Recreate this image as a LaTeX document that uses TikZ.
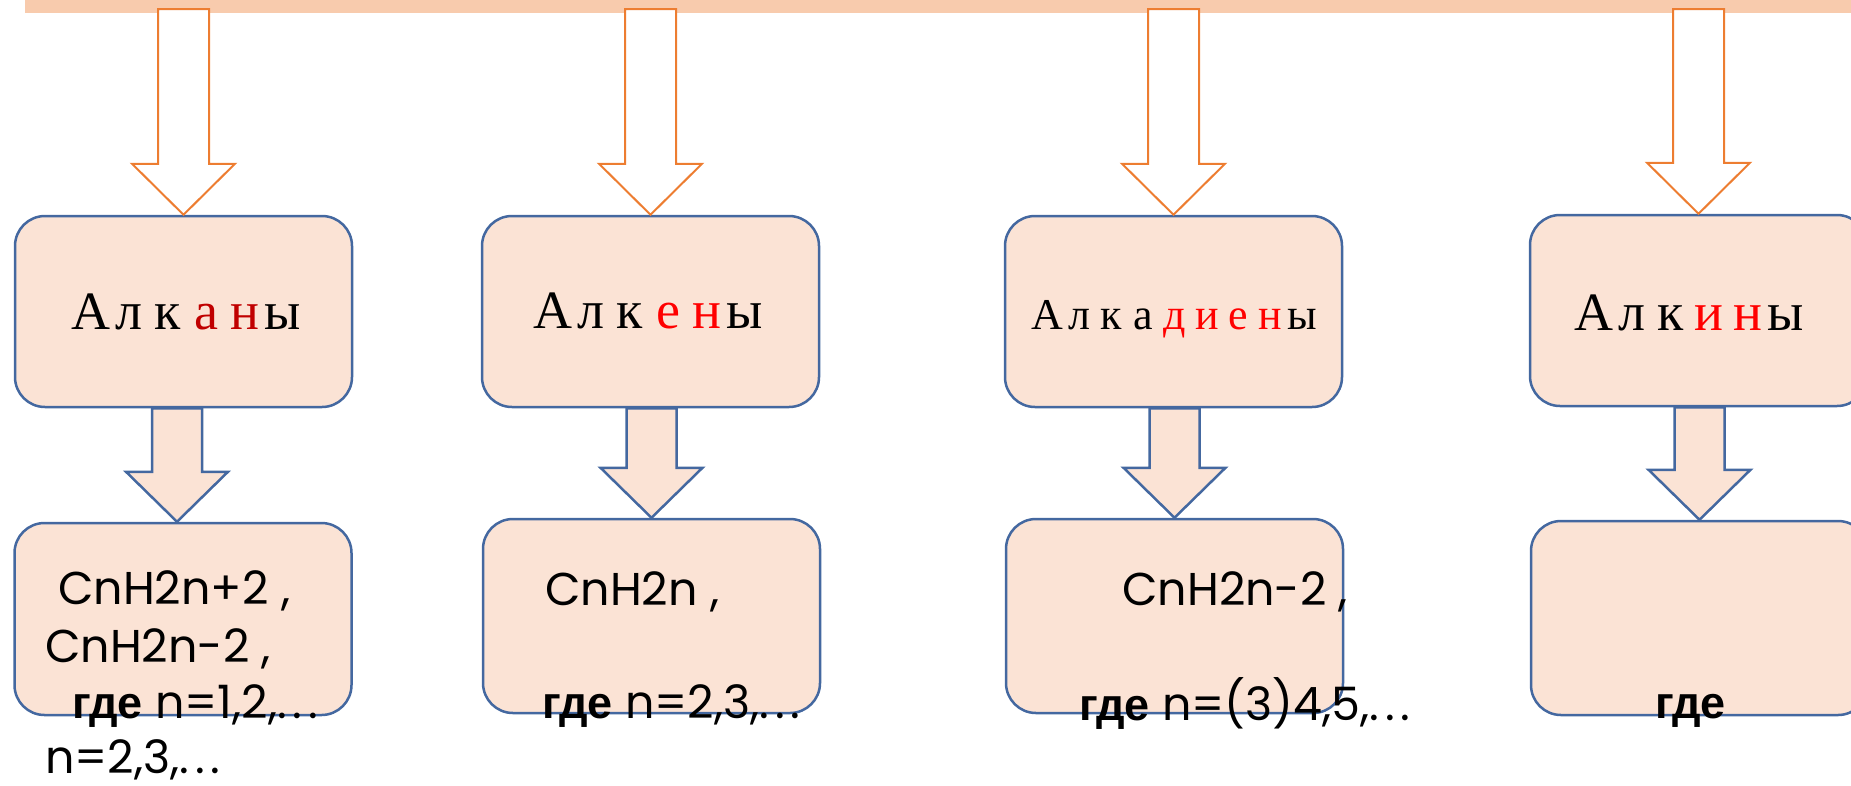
\documentclass[tikz,border=0pt]{standalone}
\usepackage{fontspec}
\usetikzlibrary{calc}
\newfontfamily\titlefont{Liberation Serif}
\newfontfamily\formfont{Poppins}
\newfontfamily\boldsans{Liberation Sans}
\definecolor{bandcol}{HTML}{F8CBAD}
\definecolor{arrowor}{HTML}{ED7D31}
\definecolor{boxfill}{HTML}{FBE3D5}
\definecolor{boxline}{HTML}{4468A0}
\definecolor{darkred}{HTML}{C00000}
\definecolor{brightred}{HTML}{FF0000}
% typewriter-like setting: every letter in a cell of fixed width
\makeatletter
\newcommand\cells[2]{\@tfor\cell@c:=#2\do{\makebox[#1]{\cell@c}}}
\makeatother
% widely spaced ellipsis
\newcommand\wdots{.\hspace{0.13em}.\hspace{0.13em}.}
% bold word "где"
\newcommand\gde{{\boldsans\bfseries\fontsize{45}{45}\selectfont где}}
% block arrow: #1 top point, #2 tip point, #3 half shaft width,
% #4 half head width, #5 head length, #6 style
\newcommand\blockarr[6]{%
  \path[#6] let \p1=(#1), \p2=(#2) in
    ({\x2-#3},\y1) -- ({\x2+#3},\y1) -- ({\x2+#3},{\y2+#5}) --
    ({\x2+#4},{\y2+#5}) -- (\x2,\y2) -- ({\x2-#4},{\y2+#5}) --
    ({\x2-#3},{\y2+#5}) -- cycle;}
\begin{document}
\begin{tikzpicture}[x=1pt,y=-1pt,
  classbox/.style={draw=boxline, fill=boxfill, line width=2.5pt,
    rounded corners=30pt, minimum width=337pt, minimum height=191pt,
    inner sep=0pt},
  title/.style={anchor=base, inner sep=0pt, text=black,
    font=\titlefont\fontsize{54}{54}\selectfont},
  formula/.style={anchor=base west, inner sep=0pt, text=black,
    font=\formfont\fontsize{46}{46}\selectfont},
  orangearr/.style={draw=arrowor, fill=white, line width=2pt},
  bluearr/.style={draw=boxline, fill=boxfill, line width=2.5pt}]
\useasboundingbox (0,0) rectangle (1851,785);

% top band
\node[fill=bandcol, inner sep=0pt, minimum width=1826pt, minimum height=13pt,
  anchor=north west] (band) at (25,0) {};

% upper row of class boxes
\node[classbox] (b1) at (183.5,311.5) {};
\node[classbox] (b2) at (650.5,311.5) {};
\node[classbox] (b3) at (1173.5,311.5) {};
\node[classbox] (b4) at (1698.5,310.5) {};

% arrows from the band to each class
\coordinate (s1) at (183,9);
\coordinate (s2) at (650,9);
\coordinate (s3) at (1173,9);
\coordinate (s4) at (1699,9);
\blockarr{s1}{b1.north}{25.5pt}{51.5pt}{51pt}{orangearr}
\blockarr{s2}{b2.north}{25.5pt}{51.5pt}{51pt}{orangearr}
\blockarr{s3}{b3.north}{25.5pt}{51.5pt}{51pt}{orangearr}
\blockarr{s4}{b4.north}{25.5pt}{51.5pt}{51pt}{orangearr}

% lower row of formula boxes
\node[classbox, minimum height=192pt] (c1) at (183,619) {};
\node[classbox, minimum height=194pt] (c2) at (651.5,616) {};
\node[classbox, minimum height=194pt] (c3) at (1174.5,616) {};
\node[classbox, minimum height=194pt] (c4) at (1699.5,618) {};

% arrows from each class to its formula
\blockarr{b1.south}{$(c1.north)+(-6,0)$}{25pt}{51pt}{50pt}{bluearr}
\blockarr{b2.south}{c2.north}{25pt}{51pt}{50pt}{bluearr}
\blockarr{b3.south}{c3.north}{25pt}{51pt}{50pt}{bluearr}
\blockarr{b4.south}{c4.north}{25pt}{51pt}{50pt}{bluearr}

% class names
\node[title] (t1) at (187,329)
  {\cells{38.4pt}{Алк}\textcolor{darkred}{\cells{38.4pt}{ан}}\cells{38.4pt}{ы}};
\node[title] (t2) at (649,328)
  {\cells{38.4pt}{Алк}\textcolor{brightred}{\cells{38.4pt}{ен}}\cells{38.4pt}{ы}};
\node[title, font=\titlefont\fontsize{44}{44}\selectfont] (t3) at (1175,329)
  {\cells{31.8pt}{Алка}\textcolor{brightred}{\cells{31.8pt}{диен}}\cells{31.8pt}{ы}};
\node[title] (t4) at (1690,330)
  {\cells{38.4pt}{Алк}\textcolor{brightred}{\cells{38.4pt}{ин}}\cells{38.4pt}{ы}};

% formulas
\node[formula] (f1a) at (58,604) {CnH2n+2 ,};
\node[formula] (f1b) at (45,662) {CnH2n-2 ,};
\node[formula] (f1c) at (72,718) {\gde{} n=1,2,\wdots};
\node[formula] (f1d) at (45,773) {n=2,3,\wdots};

\node[formula] (f2a) at (545,605) {CnH2n ,};
\node[formula] (f2b) at (542,718) {\gde{} n=2,3,\wdots};

\node[formula] (f3a) at (1122,605) {CnH2n-2 ,};
\node[formula] (f3b) at (1079,720) {\gde{} n=(3)4,5,\wdots};

\node[formula] (f4) at (1655,718) {\gde};
\end{tikzpicture}
\end{document}
